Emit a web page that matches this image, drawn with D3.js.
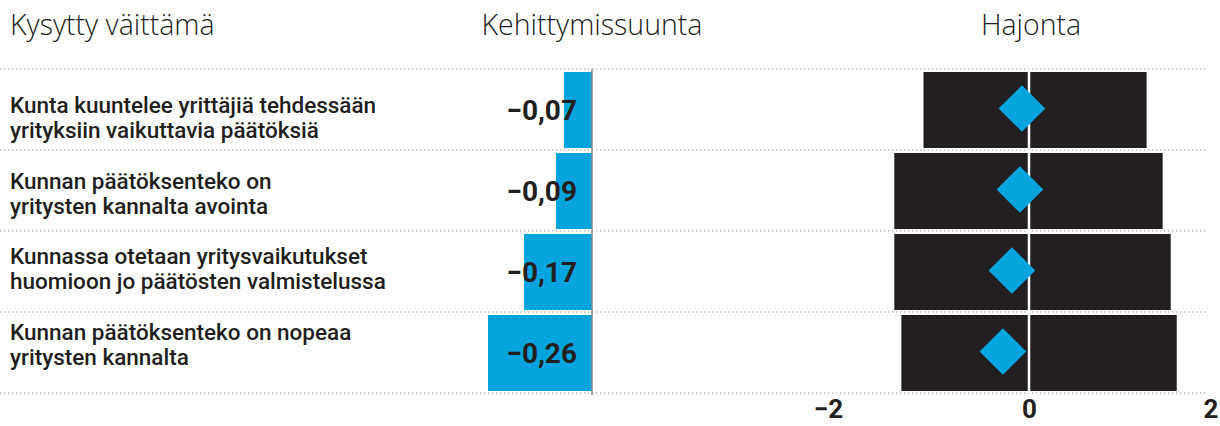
<!DOCTYPE html>
<html>
<head>
<meta charset="utf-8">
<script src="https://cdn.jsdelivr.net/npm/d3@7"></script>
<style>
  body { margin: 0; background: #fff; }
  svg { display: block; }
  .head { font-family: "Open Sans", sans-serif; font-weight: 300; font-size: 28.5px; fill: #231f20; }
  .lbl { font-family: Roboto, sans-serif; font-weight: 500; font-size: 22.5px; fill: #231f20; }
  .val { font-family: Roboto, sans-serif; font-weight: 700; font-size: 28px; fill: #231f20; }
  .axis text { font-family: Roboto, sans-serif; font-weight: 700; font-size: 26px; fill: #231f20; }
</style>
</head>
<body>
<div id="chart"></div>
<script>
const w = 1220,
      h = 426;
const blue = '#06a4dd',
      dark = '#231f20';

// data
const labelLine1 = ['Kunta kuuntelee yrittäjiä tehdessään', 'Kunnan päätöksenteko on', 'Kunnassa otetaan yritysvaikutukset', 'Kunnan päätöksenteko on nopeaa'];
const labelLine2 = ['yrityksiin vaikuttavia päätöksiä', 'yritysten kannalta avointa', 'huomioon jo päätösten valmistelussa', 'yritysten kannalta'];
const trend = [-0.07, -0.09, -0.17, -0.26];
const spreadLow = [-1.05, -1.34, -1.34, -1.27];
const spreadHigh = [1.17, 1.33, 1.41, 1.47];
const spreadTicks = [-2, 0, 2];
const headers = ['Kysytty väittämä', 'Kehittymissuunta', 'Hajonta'];

const idx = trend.map((d, i) => i);

const svg = d3.select('#chart').append('svg')
              .attr('width', w)
              .attr('height', h);

const rowScale = d3.scaleBand().domain(idx).range([69, 393]);
const labelScale = d3.scalePoint().domain(idx).range([113, 340]);
const xTrend = d3.scaleLinear().domain([-0.3, 0]).range([472, 592]);
const xSpread = d3.scaleLinear().domain([-2, 2]).range([828, 1230]);

// headers
svg.append('text').attr('class', 'head').attr('x', 10).attr('y', 35).text(headers[0]);
svg.append('text').attr('class', 'head').attr('x', xTrend(0)).attr('y', 35).attr('text-anchor', 'middle').text(headers[1]);
svg.append('text').attr('class', 'head').attr('x', xSpread(0) + 2).attr('y', 35).attr('text-anchor', 'middle').text(headers[2]);

// dotted row separators
const lines = idx.map(i => rowScale(i)).concat([rowScale.range()[1]]);
svg.selectAll('line.sep')
   .data(lines)
   .enter()
   .append('line')
   .attr('class', 'sep')
   .attr('x1', 0).attr('x2', 1206)
   .attr('y1', d => d).attr('y2', d => d)
   .attr('stroke', '#9a9a9a')
   .attr('stroke-width', 1.2)
   .attr('stroke-dasharray', '1.3,2.7');

// row labels
const lbl = svg.selectAll('text.lbl')
   .data(idx)
   .enter()
   .append('text')
   .attr('class', 'lbl')
   .attr('x', 10)
   .attr('y', i => labelScale(i));
lbl.append('tspan').attr('x', 10).text(i => labelLine1[i]);
lbl.append('tspan').attr('x', 10).attr('dy', 25).text(i => labelLine2[i]);

// trend bars
svg.selectAll('rect.trend')
   .data(idx)
   .enter()
   .append('rect')
   .attr('class', 'trend')
   .attr('x', i => xTrend(trend[i]))
   .attr('width', i => xTrend(0) - xTrend(trend[i]))
   .attr('y', i => rowScale(i) + 3)
   .attr('height', rowScale.bandwidth() - 5)
   .attr('fill', blue);

svg.append('line')
   .attr('x1', xTrend(0)).attr('x2', xTrend(0))
   .attr('y1', rowScale.range()[0]).attr('y2', rowScale.range()[1] + 2)
   .attr('stroke', '#8a8a8a')
   .attr('stroke-width', 1.5);

svg.selectAll('text.val')
   .data(idx)
   .enter()
   .append('text')
   .attr('class', 'val')
   .attr('x', xTrend(0) - 15)
   .attr('y', i => rowScale(i) + rowScale.bandwidth() / 2 + 10)
   .attr('text-anchor', 'end')
   .text(i => d3.format('.2f')(trend[i]).replace('.', ','));

// spread bars
svg.selectAll('rect.spread')
   .data(idx)
   .enter()
   .append('rect')
   .attr('class', 'spread')
   .attr('x', i => xSpread(spreadLow[i]))
   .attr('width', i => xSpread(spreadHigh[i]) - xSpread(spreadLow[i]))
   .attr('y', i => rowScale(i) + 3)
   .attr('height', rowScale.bandwidth() - 5)
   .attr('fill', dark);

svg.append('line')
   .attr('x1', xSpread(0)).attr('x2', xSpread(0))
   .attr('y1', rowScale.range()[0]).attr('y2', rowScale.range()[1])
   .attr('stroke', '#fff')
   .attr('stroke-width', 2.5);

const dsize = 33;
svg.selectAll('rect.diamond')
   .data(idx)
   .enter()
   .append('rect')
   .attr('class', 'diamond')
   .attr('x', -dsize / 2).attr('y', -dsize / 2)
   .attr('width', dsize).attr('height', dsize)
   .attr('transform', i => 'translate(' + xSpread(trend[i]) + ',' + (rowScale(i) + rowScale.bandwidth() / 2 - 1) + ') rotate(45)')
   .attr('fill', blue);

// spread axis
const axis = svg.append('g')
   .attr('class', 'axis')
   .attr('transform', 'translate(0,400)')
   .call(d3.axisBottom(xSpread).tickValues(spreadTicks).tickFormat(d3.format('d')).tickSize(0).tickPadding(0));
axis.select('.domain').remove();
axis.selectAll('.tick')
    .filter(d => d === spreadTicks[spreadTicks.length - 1])
    .select('text')
    .attr('text-anchor', 'end')
    .attr('x', (w - 2) - xSpread(spreadTicks[spreadTicks.length - 1]));
</script>
</body>
</html>
